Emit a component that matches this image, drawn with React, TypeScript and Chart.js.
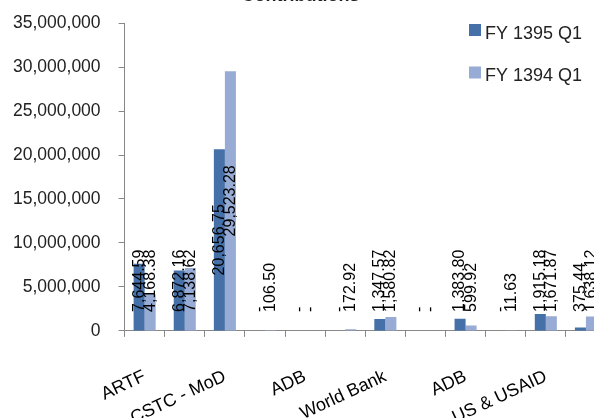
import React, { useEffect, useRef } from "react";
import { Chart, registerables } from "chart.js";

Chart.register(...registerables);

const categories = ["ARTF", "", "CSTC - MoD", "", "ADB", "", "World Bank", "", "ADB", "", "US & USAID", ""];
const fy1395Q1 = [7644590, 6872160, 20656750, 0, 0, 0, 1347570, 0, 1383800, 0, 1915180, 375440];
const fy1394Q1 = [4168380, 7138620, 29523280, 106500, 0, 172920, 1580820, 0, 599920, 11630, 1671870, 1638120];
const seriesNames = ["FY 1395 Q1", "FY 1394 Q1"];
const yTicks = [0, 5000000, 10000000, 15000000, 20000000, 25000000, 30000000, 35000000];
const titleText = "Contributions";

const FONT = "'Liberation Sans', Arial, sans-serif";
const COLORS = ["#4570A8", "#97ABD5"];

function fmtLabel(v: number): string {
  if (v === 0) return "-";
  return (v / 1000).toLocaleString("en-US", { minimumFractionDigits: 2, maximumFractionDigits: 2 });
}

const valueLabels = {
  id: "valueLabels",
  afterDatasetsDraw(chart: any) {
    const ctx = chart.ctx;
    const yScale = chart.scales.y;
    const zero = yScale.getPixelForValue(0);
    ctx.save();
    ctx.font = `16px ${FONT}`;
    ctx.fillStyle = "#000";
    chart.data.datasets.forEach((ds: any, di: number) => {
      const meta = chart.getDatasetMeta(di);
      meta.data.forEach((el: any, i: number) => {
        const text = fmtLabel(ds.data[i]);
        const w = ctx.measureText(text).width;
        const center = (el.y + el.base) / 2;
        const start = Math.min(center + w / 2, zero - 19);
        ctx.save();
        ctx.translate(el.x, start);
        ctx.rotate(-Math.PI / 2);
        ctx.textAlign = "left";
        ctx.textBaseline = "middle";
        ctx.fillText(text, 0, 0);
        ctx.restore();
      });
    });
    ctx.restore();
  },
};

const sideLegend = {
  id: "sideLegend",
  afterDraw(chart: any) {
    const ctx = chart.ctx;
    ctx.save();
    ctx.font = `18px ${FONT}`;
    ctx.textAlign = "left";
    ctx.textBaseline = "middle";
    chart.data.datasets.forEach((ds: any, i: number) => {
      const x = 469;
      const y = 44 + i * 42.5;
      ctx.fillStyle = ds.backgroundColor;
      ctx.fillRect(x, y, 12, 12);
      ctx.fillStyle = "#222";
      ctx.fillText(ds.label, x + 16, y + 10);
    });
    ctx.restore();
  },
};

export default function App() {
  const ref = useRef<HTMLCanvasElement | null>(null);
  useEffect(() => {
    if (!ref.current) return;
    const chart = new Chart(ref.current, {
      type: "bar",
      data: {
        labels: categories,
        datasets: [
          { label: seriesNames[0], data: fy1395Q1, backgroundColor: COLORS[0], categoryPercentage: 0.55, barPercentage: 1 },
          { label: seriesNames[1], data: fy1394Q1, backgroundColor: COLORS[1], categoryPercentage: 0.55, barPercentage: 1 },
        ],
      },
      options: {
        animation: false,
        responsive: false,
        maintainAspectRatio: false,
        layout: { padding: { left: -5, right: 22, top: 0, bottom: 0 } },
        plugins: {
          legend: { display: false },
          tooltip: { enabled: false },
          title: {
            display: true,
            text: titleText,
            color: "#222",
            font: { size: 18, weight: "bold", family: FONT },
            padding: { top: 5.5, bottom: 16 },
          },
        },
        scales: {
          x: {
            offset: true,
            afterFit: (scale: any) => {
              scale.paddingLeft = 0;
              scale.paddingRight = 0;
            },
            grid: { offset: true, drawOnChartArea: false, drawTicks: true, tickLength: 6, color: "#888" },
            border: { color: "#888" },
            ticks: {
              autoSkip: false,
              minRotation: 25,
              maxRotation: 25,
              padding: 29,
              color: "#000",
              font: { size: 18, family: FONT },
              callback: (_v: any, i: number) => categories[i],
            },
          },
          y: {
            min: 0,
            max: 35000000,
            afterBuildTicks: (axis: any) => {
              axis.ticks = yTicks.map((v) => ({ value: v }));
            },
            grid: { drawOnChartArea: false, drawTicks: true, tickLength: 6, color: "#888" },
            border: { color: "#888" },
            ticks: {
              padding: 18,
              color: "#222",
              font: { size: 17.5, family: FONT },
              callback: (v: any) => Number(v).toLocaleString("en-US"),
            },
          },
        },
      },
      plugins: [valueLabels, sideLegend],
    });
    return () => chart.destroy();
  }, []);
  return (
    <div style={{ position: "fixed", left: 0, top: 0, width: 594, height: 418, overflow: "hidden", background: "#fff" }}>
      <canvas ref={ref} width={628} height={478} style={{ position: "absolute", left: 0, top: -20, width: 628, height: 478 }} />
    </div>
  );
}
